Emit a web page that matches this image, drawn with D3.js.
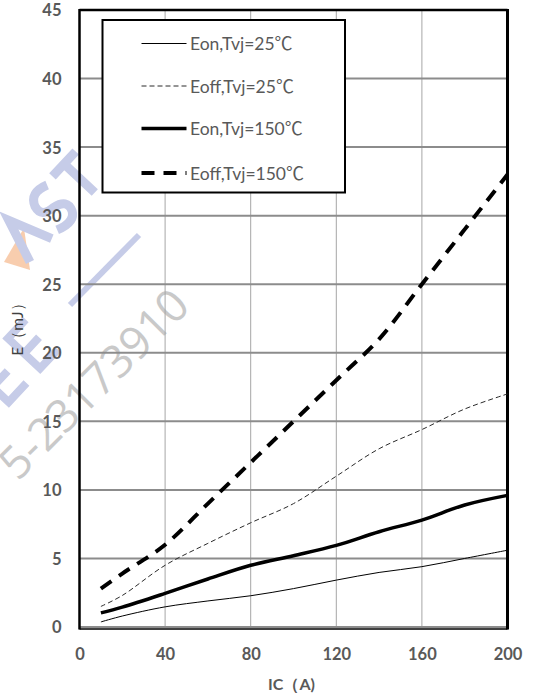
<!DOCTYPE html>
<html>
<head>
<meta charset="utf-8">
<script src="https://cdn.jsdelivr.net/npm/d3@7"></script>
<style>
  html, body { margin: 0; padding: 0; background: #fff; }
  svg { display: block; }
</style>
</head>
<body>
<svg id="chart" width="533" height="698"></svg>
<script>
// Switching energy vs collector current
const ic      = [10, 20, 40, 60, 80, 100, 120, 140, 160, 180, 200];
const eon25   = [0.37, 0.8, 1.47, 1.9, 2.28, 2.8, 3.42, 3.98, 4.4, 5.0, 5.6];
const eoff25  = [1.5, 2.3, 4.5, 6.1, 7.6, 9.0, 11.0, 13.0, 14.4, 15.9, 17.0];
const eon150  = [1.03, 1.45, 2.45, 3.5, 4.5, 5.2, 5.95, 6.95, 7.8, 8.9, 9.6];
const eoff150 = [2.8, 3.9, 6.0, 9.0, 12.0, 15.0, 18.0, 21.0, 25.0, 29.0, 33.0];

const seriesNames = ["Eon,Tvj=25", "Eoff,Tvj=25", "Eon,Tvj=150", "Eoff,Tvj=150"];
const unitSign = "℃";
const xTicks = [0, 40, 80, 120, 160, 200];
const yTicks = [0, 5, 10, 15, 20, 25, 30, 35, 40, 45];
const xTitle = "IC（A)";
const yTitle = "E（mJ）";
const stampText = "5-23173910";

const series = [
  { name: seriesNames[0], values: eon25,   width: 1,   color: "#000", dash: null },
  { name: seriesNames[1], values: eoff25,  width: 1,   color: "#2a2a2a", dash: "5,3" },
  { name: seriesNames[2], values: eon150,  width: 3.5, color: "#000", dash: null },
  { name: seriesNames[3], values: eoff150, width: 4,   color: "#000", dash: "13,9" }
];

const W = 533, H = 698;
const m = { left: 79.5, right: 25.5, top: 10, bottom: 71 };
const svg = d3.select("#chart");
const labelColor = "#595959";
const font = "Lato, 'Open Sans', sans-serif";
const cjk = "'Noto Sans CJK SC', sans-serif";

const x = d3.scaleLinear().domain([0, 200]).range([m.left, W - m.right]);
const y = d3.scaleLinear().domain([0, 45]).range([H - m.bottom, m.top]);

// faint logo / phone number stamp behind the plot
const wm = svg.append("g").attr("class", "stamp");
const blue = "#c6cce8";
wm.append("path")
  .attr("d", "M4,262 L24,228 L30,270 Z")
  .attr("fill", "#f7c4a0").attr("opacity", 0.85);
// stylised letters, drawn as strokes in a rotated frame
const logo = wm.append("g")
  .attr("transform", "translate(30,262) rotate(-47)")
  .attr("fill", "none").attr("stroke", blue).attr("stroke-width", 9)
  .attr("stroke-linejoin", "miter");
logo.append("path").attr("d", "M0,0 L16,-44 L32,0");                 // A
logo.append("path").attr("d", "M68,-40 Q50,-48 44,-34 Q40,-22 56,-20 Q72,-16 66,-4 Q60,6 42,-2"); // S
logo.append("path").attr("d", "M78,-42 L112,-42 M95,-42 L95,0");   // T
wm.append("line")
  .attr("x1", 70).attr("y1", 305).attr("x2", 139).attr("y2", 235)
  .attr("stroke", blue).attr("stroke-width", 6);
const ee = wm.append("g")
  .attr("transform", "translate(6,405) rotate(-47)")
  .attr("fill", "none").attr("stroke", blue).attr("stroke-width", 8);
ee.append("path").attr("d", "M30,-44 L4,-44 L4,0 L30,0 M4,-22 L26,-22");
ee.append("path").attr("d", "M76,-44 L50,-44 L50,0 L76,0 M50,-22 L72,-22");
wm.append("text")
  .attr("transform", "translate(18,482) rotate(-45)")
  .attr("font-family", "'Open Sans', sans-serif")
  .attr("font-size", 45).attr("fill", "#c4c4c4").attr("opacity", 0.9)
  .text(stampText);

// gridlines
const grid = svg.append("g");
grid.selectAll("line.v").data(xTicks.slice(1, -1)).join("line")
  .attr("x1", d => x(d)).attr("x2", d => x(d))
  .attr("y1", y(45)).attr("y2", y(0))
  .attr("stroke", "#a6a6a6").attr("stroke-width", 1);
grid.selectAll("line.h").data(yTicks.slice(0, -1)).join("line")
  .attr("x1", x(0)).attr("x2", x(200))
  .attr("y1", d => y(d)).attr("y2", d => y(d))
  .attr("stroke", "#8c8c8c").attr("stroke-width", 2);

// plot frame
svg.append("line").attr("x1", x(0)).attr("x2", x(200)).attr("y1", y(45)).attr("y2", y(45))
  .attr("stroke", "#000").attr("stroke-width", 2.5);
svg.append("line").attr("x1", x(0)).attr("x2", x(200)).attr("y1", y(0) + 2).attr("y2", y(0) + 2)
  .attr("stroke", "#000").attr("stroke-width", 1.5);
svg.append("line").attr("x1", x(0)).attr("x2", x(0)).attr("y1", y(45) - 1).attr("y2", y(0) + 2.5)
  .attr("stroke", "#000").attr("stroke-width", 2.5);
svg.append("line").attr("x1", x(200)).attr("x2", x(200)).attr("y1", y(45) - 1).attr("y2", y(0) + 2.5)
  .attr("stroke", "#000").attr("stroke-width", 3);

// curves
const line = d3.line()
  .x((d, i) => x(ic[i]))
  .y(d => y(d))
  .curve(d3.curveCatmullRom.alpha(0.5));

svg.append("g").selectAll("path").data(series).join("path")
  .attr("d", s => line(s.values))
  .attr("fill", "none")
  .attr("stroke", s => s.color)
  .attr("stroke-width", s => s.width)
  .attr("stroke-dasharray", s => s.dash)
  .attr("stroke-linejoin", "round");

// axes labels
const xAxis = d3.axisBottom(x).tickValues(xTicks).tickSize(0).tickPadding(0);
const gx = svg.append("g").attr("transform", `translate(0,${y(0) + 33})`).call(xAxis);
gx.select(".domain").remove();
gx.selectAll("text")
  .attr("font-family", font).attr("font-weight", 700)
  .attr("font-size", 16.5).attr("fill", labelColor).attr("dy", 0);

const yAxis = d3.axisLeft(y).tickValues(yTicks).tickSize(0).tickPadding(0);
const gy = svg.append("g").attr("transform", `translate(${x(0) - 18},0)`).call(yAxis);
gy.select(".domain").remove();
gy.selectAll("text")
  .attr("font-family", font).attr("font-weight", 700)
  .attr("font-size", 16.5).attr("fill", labelColor).attr("dy", "0.36em");

svg.append("text")
  .attr("x", (x(0) + x(200)) / 2 - 2).attr("y", y(0) + 63)
  .attr("text-anchor", "middle")
  .attr("font-family", font).attr("font-weight", 700)
  .attr("font-size", 16).attr("fill", labelColor)
  .text(xTitle);

svg.append("text")
  .attr("transform", `translate(23,${(y(0) + y(45)) / 2 + 7}) rotate(-90)`)
  .attr("text-anchor", "middle")
  .attr("font-family", font).attr("font-weight", 400)
  .attr("font-size", 15.5).attr("fill", "#404040")
  .text(yTitle);

// legend
const lg = svg.append("g");
lg.append("rect")
  .attr("x", 102.5).attr("y", 20).attr("width", 242.5).attr("height", 172.5)
  .attr("fill", "#fff").attr("stroke", "#000").attr("stroke-width", 2);
const rowY = [43.5, 86, 128.5, 173];
const items = lg.selectAll("g.item").data(series).join("g")
  .attr("transform", (s, i) => `translate(0,${rowY[i]})`);
items.append("line")
  .attr("x1", 141.5).attr("x2", 186.5).attr("y1", 0).attr("y2", 0)
  .attr("stroke", s => s.color)
  .attr("stroke-width", s => s.width)
  .attr("stroke-dasharray", s => s.dash);
const lt = items.append("text")
  .attr("x", 190).attr("y", 0).attr("dy", "0.38em")
  .attr("font-family", font).attr("font-size", 17.5).attr("fill", labelColor);
lt.append("tspan").text(s => s.name);
lt.append("tspan").attr("font-family", cjk).attr("font-size", 18).text(unitSign);
</script>
</body>
</html>
